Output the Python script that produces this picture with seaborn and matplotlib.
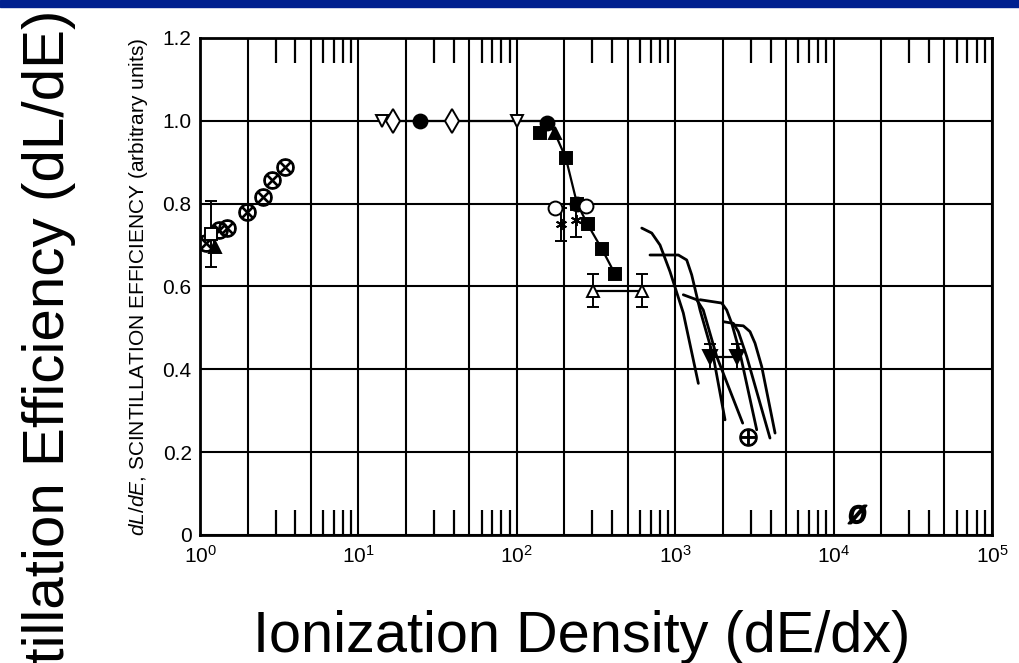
import matplotlib
matplotlib.use("Agg")
import matplotlib.pyplot as plt
from matplotlib.ticker import LogLocator, LogFormatterMathtext, NullFormatter
from matplotlib.patches import Rectangle
import seaborn as sns

# --- data ---
# crossed circles, low ionization density
xcirc_x = [1.09, 1.32, 1.48, 1.98, 2.50, 2.85, 3.44]
xcirc_y = [0.705, 0.737, 0.742, 0.78, 0.816, 0.857, 0.889]
# open square with error bar / filled triangle
sq_x, sq_y, sq_err = [1.17], [0.727], [0.08]
ftri_x, ftri_y = [1.24], [0.696]

# plateau at 1.0
plat_line_x = [14.0, 16.5, 24.5, 39.0, 100.0, 155.0]
plat_line_y = [1.0, 1.0, 1.0, 1.0, 1.0, 1.0]
vtri_x, vtri_y = [14.0, 100.0], [1.0, 1.0]
diam_x, diam_y = [16.5, 39.0], [1.0, 1.0]
fcirc_x, fcirc_y = [24.5, 155.0, 240.0], [1.0, 0.995, 0.80]

# falling branch with filled squares
fall_x = [155.0, 174.0, 204.0, 240.0, 280.0, 345.0, 417.0]
fall_y = [1.0, 0.97, 0.91, 0.80, 0.75, 0.69, 0.63]
fsq_x = [140.0, 204.0, 240.0, 280.0, 345.0, 417.0]
fsq_y = [0.97, 0.91, 0.80, 0.75, 0.69, 0.63]
ftri2_x, ftri2_y = [174.0], [0.97]

# open circles and stars with error bars
ocirc_x, ocirc_y = [174.0, 275.0], [0.79, 0.795]
star_x, star_y, star_err = [190.0, 237.0], [0.75, 0.76], [0.04, 0.04]

# open up-triangles with error bars
utri_x, utri_y, utri_err = [303.0, 617.0], [0.59, 0.59], [0.04, 0.04]

# filled down-triangles with error bars
dtri_x, dtri_y, dtri_err = [1660.0, 2450.0], [0.43, 0.43], [0.03, 0.03]

# single points at high dE/dx
hp_x, hp_y = [2870.0], [0.237]
slash_x, slash_y = [14100.0], [0.05]

# calculated curves
curves = [
    ([615, 711, 802, 927, 1125, 1400], [0.741, 0.729, 0.70, 0.636, 0.536, 0.366]),
    ([693, 1047, 1182, 1271, 1435, 1740, 2063], [0.676, 0.676, 0.664, 0.628, 0.543, 0.431, 0.278]),
    ([1125, 1367, 1504, 1828, 2667], [0.580, 0.568, 0.543, 0.431, 0.270]),
    ([1436, 1967, 2114, 2274, 2565, 3270], [0.568, 0.560, 0.543, 0.511, 0.439, 0.254]),
    ([2012, 2327, 2503, 2827, 3966], [0.515, 0.511, 0.491, 0.431, 0.234]),
    ([2327, 2692, 2966, 3191, 3515, 4270], [0.507, 0.505, 0.491, 0.463, 0.407, 0.246]),
]

y_ticks = [0, 0.2, 0.4, 0.6, 0.8, 1.0, 1.2]
y_tick_labels = ["0", "0.2", "0.4", "0.6", "0.8", "1.0", "1.2"]

sns.set_theme(style="white")
plt.rcParams["font.family"] = ["Liberation Sans", "DejaVu Sans"]
plt.rcParams["mathtext.fontset"] = "custom"
plt.rcParams["mathtext.rm"] = "Liberation Sans"
plt.rcParams["mathtext.it"] = "Liberation Sans:italic"

fig = plt.figure(figsize=(10.19, 6.63), dpi=100)
ax = fig.add_axes([0.1963, 0.1931, 0.7772, 0.7496])
ax.set_xscale("log")
ax.set_xlim(1, 1e5)
ax.set_ylim(0, 1.2)


def draw(x, y, marker=None, filled=False, ms=9, line=False, lw=1.6, z=3):
    sns.lineplot(x=x, y=y, ax=ax, estimator=None, sort=False, color="black",
                 marker=marker, markersize=ms,
                 markerfacecolor="black" if filled else "white",
                 markeredgecolor="black", markeredgewidth=1.4,
                 linestyle="-" if line else "", linewidth=lw, zorder=z)


def errs(x, y, e):
    ax.errorbar(x, y, yerr=e, fmt="none", ecolor="black", elinewidth=1.4,
                capsize=4, capthick=1.4, zorder=2)


# lines first
draw(plat_line_x, plat_line_y, line=True, z=2)
draw(fall_x, fall_y, line=True, z=2)
draw(utri_x, utri_y, line=True, z=2)
draw(dtri_x, dtri_y, line=True, z=2)
for cx, cy in curves:
    draw(cx, cy, line=True, lw=2.0, z=2)

errs(sq_x, sq_y, sq_err)
errs(star_x, star_y, star_err)
errs(utri_x, utri_y, utri_err)
errs(dtri_x, dtri_y, dtri_err)

# markers
draw(xcirc_x, xcirc_y, marker=r"$\otimes$", filled=True, ms=12)
draw(sq_x, sq_y, marker="s", ms=8)
draw(ftri_x, ftri_y, marker="^", filled=True, ms=8)
draw(vtri_x, vtri_y, marker="v", ms=9)
draw(diam_x, diam_y, marker="d", ms=12)
draw(fcirc_x, fcirc_y, marker="o", filled=True, ms=10)
draw(fsq_x, fsq_y, marker="s", filled=True, ms=9)
draw(ftri2_x, ftri2_y, marker="^", filled=True, ms=9)
draw(ocirc_x, ocirc_y, marker="o", ms=10)
draw(star_x, star_y, marker=(6, 2, 0), ms=8)
draw(utri_x, utri_y, marker="^", ms=8)
draw(dtri_x, dtri_y, marker="v", filled=True, ms=10)
draw(hp_x, hp_y, marker=r"$\oplus$", filled=True, ms=12)
draw(slash_x, slash_y, marker=r"$\o$", filled=True, ms=13)

# axes styling: grid at 1, 2, 5 per decade, short inner ticks elsewhere
ax.xaxis.set_major_locator(LogLocator(base=10, subs=(1.0, 2.0, 5.0), numticks=30))
ax.xaxis.set_major_formatter(LogFormatterMathtext(labelOnlyBase=True))
ax.xaxis.set_minor_locator(LogLocator(base=10, subs=(3, 4, 6, 7, 8, 9), numticks=30))
ax.xaxis.set_minor_formatter(NullFormatter())
ax.set_yticks(y_ticks, labels=y_tick_labels)
ax.grid(which="major", color="black", linewidth=1.5)
ax.tick_params(which="major", length=0, labelsize=15, colors="black")
ax.tick_params(axis="x", which="major", pad=7)
ax.tick_params(axis="y", which="major", pad=6)
ax.tick_params(axis="x", which="minor", direction="in", length=18, width=1.6,
               top=True, bottom=True, color="black")
for s in ax.spines.values():
    s.set_color("black")
    s.set_linewidth(2)

ax.set_ylabel(r"$dL/dE$, SCINTILLATION EFFICIENCY (arbitrary units)",
              fontsize=15, color="black")
ax.yaxis.set_label_coords(-0.063, 0.5)

# slide decorations
fig.add_artist(Rectangle((0, 1 - 7 / 663), 1, 7 / 663, transform=fig.transFigure,
                         color="#00208f", zorder=10))
fig.text(64 / 1019, 1 - 10 / 663, "Scintillation Efficiency (dL/dE)", rotation=90,
         rotation_mode="anchor", ha="right", va="baseline", fontsize=42, color="black")
fig.text(253 / 1019, 1 - 652 / 663, "Ionization Density (dE/dx)",
         ha="left", va="baseline", fontsize=41.5, color="black")

fig.savefig("out.png", dpi=100, facecolor="white")
